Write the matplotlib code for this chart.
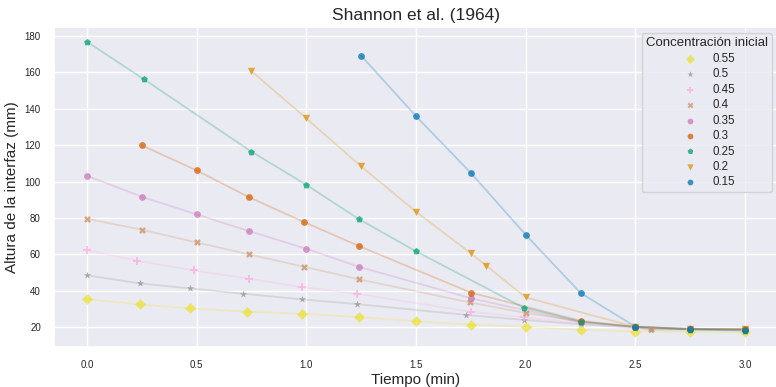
import matplotlib
matplotlib.use("Agg")
import matplotlib.pyplot as plt
import seaborn as sns

# Shannon et al. (1964) - altura de la interfaz vs tiempo, por concentración inicial
conc_labels = ["0.55", "0.5", "0.45", "0.4", "0.35", "0.3", "0.25", "0.2", "0.15"]

t_055 = [0, 0.24, 0.47, 0.73, 0.98, 1.24, 1.5, 1.75, 2.0, 2.25, 2.5, 2.75, 3.0]
h_055 = [35.3, 32.4, 30.2, 28.4, 27.3, 25.4, 23.2, 21.3, 20.1, 18.5, 17.5, 17.2, 17.0]

t_050 = [0, 0.24, 0.47, 0.71, 0.98, 1.23, 1.73, 1.99, 2.25, 2.5, 2.57, 2.75, 3.0]
h_050 = [48.4, 44.0, 41.2, 38.3, 35.2, 32.6, 26.6, 23.9, 21.5, 19.5, 18.5, 18.5, 18.3]

t_045 = [0, 0.23, 0.49, 0.74, 0.98, 1.23, 1.75, 1.99, 2.25, 2.5, 2.75, 3.0]
h_045 = [62.3, 56.4, 51.1, 46.5, 41.9, 38.3, 28.4, 25.3, 22.0, 19.8, 18.8, 18.5]

t_040 = [0, 0.25, 0.5, 0.74, 0.99, 1.24, 1.745, 2.0, 2.25, 2.5, 2.57, 2.75, 3.0]
h_040 = [79.5, 73.5, 66.5, 59.9, 53.1, 46.2, 33.5, 27.7, 23.0, 20.0, 18.9, 18.8, 18.7]

t_035 = [0, 0.25, 0.5, 0.74, 1.0, 1.24, 1.75, 2.25, 2.5, 2.75, 3.0]
h_035 = [103.2, 91.6, 81.9, 72.7, 63.0, 53.1, 35.8, 22.5, 20.0, 18.8, 18.6]

t_030 = [0.25, 0.5, 0.74, 0.99, 1.24, 1.75, 2.25, 2.5, 2.75, 3.0]
h_030 = [119.9, 106.1, 91.3, 77.7, 64.5, 38.9, 23.4, 20.1, 18.8, 18.7]

t_025 = [0, 0.26, 0.75, 1.0, 1.24, 1.5, 1.99, 2.25, 2.5, 2.75, 3.0]
h_025 = [176.9, 156.2, 116.4, 98.2, 79.3, 61.6, 30.7, 23.0, 20.0, 18.6, 18.0]

t_020 = [0.75, 1.0, 1.25, 1.5, 1.75, 1.82, 2.0, 2.5, 2.75, 3.0]
h_020 = [160.7, 134.7, 108.3, 83.4, 60.5, 53.7, 36.3, 20.0, 19.0, 18.7]

t_015 = [1.25, 1.5, 1.75, 2.0, 2.25, 2.5, 2.75, 3.0]
h_015 = [169.2, 135.9, 104.7, 70.7, 38.7, 20.2, 19.0, 18.6]

times = [t_055, t_050, t_045, t_040, t_035, t_030, t_025, t_020, t_015]
heights = [h_055, h_050, h_045, h_040, h_035, h_030, h_025, h_020, h_015]

sns.set_theme(style="darkgrid")
plt.rcParams['font.family'] = ['Liberation Sans', 'DejaVu Sans']

cb = sns.color_palette("colorblind")
colors = [cb[8], cb[7], cb[6], cb[5], cb[4], cb[3], cb[2], cb[1], cb[0]]
markers = ["D", "*", "P", "X", "o", "o", "p", "v", "o"]
sizes = [30, 30, 30, 24, 24, 24, 26, 28, 24]

fig = plt.figure(figsize=(7.76, 3.87), dpi=100)
ax = fig.add_axes([0.0696, 0.1034, 0.933, 0.827])

for t, h, lab, c, m, s in zip(times, heights, conc_labels, colors, markers, sizes):
    ax.plot(t, h, color=c, alpha=0.25, linewidth=1.3, zorder=2)
    ax.scatter(t, h, color=c, marker=m, s=s, alpha=0.75, linewidths=0,
               label=lab, zorder=3)

ax.set_xlim(-0.15, 3.15)
ax.set_ylim(9, 185)
ax.set_yticks(range(20, 181, 20))
ax.tick_params(labelsize=7)
ax.set_title("Shannon et al. (1964)", fontsize=12.5, pad=5)
ax.set_xlabel("Tiempo (min)", fontsize=11, labelpad=2)
ax.set_ylabel("Altura de la interfaz (mm)", fontsize=11, labelpad=4)

leg = ax.legend(title="Concentración inicial", loc="upper right", fontsize=8.3,
                title_fontsize=9.5, markerscale=0.85, borderaxespad=0.55,
                labelspacing=0.3, handletextpad=0.9, borderpad=0.35)

plt.savefig("out.png", dpi=100)
